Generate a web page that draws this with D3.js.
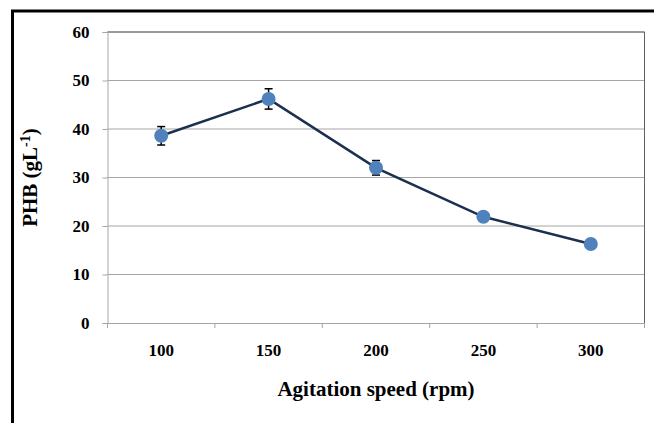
<!DOCTYPE html>
<html><head><meta charset="utf-8">
<script src="https://cdn.jsdelivr.net/npm/d3@7"></script>
<style>body{margin:0;background:#fff}svg{display:block}
.t{font-family:"Liberation Serif","Times New Roman",serif;font-weight:bold;fill:#000}</style>
</head><body>
<script>
const categories = ["100","150","200","250","300"];
const phb = [38.6, 46.2, 32.0, 21.9, 16.3];
const errs = [1.9, 2.1, 1.5, 0.5, 0.4];
const yTicks = [0,10,20,30,40,50,60];

const W=654,H=423;
const svg=d3.select("body").append("svg").attr("width",W).attr("height",H);
svg.append("rect").attr("width",W).attr("height",H).attr("fill","#fff");
// outer frame
svg.append("rect").attr("x",12.5).attr("y",11).attr("width",700).attr("height",500)
  .attr("fill","none").attr("stroke","#000").attr("stroke-width",3);

const L=107.5,R=644.5,T=32,B=323;
const x=d3.scaleBand().domain(categories).range([L,R]).padding(0);
const y=d3.scaleLinear().domain([0,60]).range([B,T]);

// gridlines
svg.append("g").selectAll("line").data(yTicks.filter(d=>d>0)).join("line")
  .attr("x1",L).attr("x2",R).attr("y1",d=>y(d)).attr("y2",d=>y(d))
  .attr("stroke","#a6a6a6").attr("stroke-width",1);
// plot border top/right
svg.append("line").attr("x1",L).attr("x2",R).attr("y1",T).attr("y2",T).attr("stroke","#606060");
svg.append("line").attr("x1",R).attr("x2",R).attr("y1",T).attr("y2",B).attr("stroke","#606060");

// y axis
const ya=svg.append("g").attr("transform",`translate(${L},0)`)
  .call(d3.axisLeft(y).tickValues(yTicks).tickSize(5).tickPadding(13));
ya.attr("font-family",null).attr("font-size",null);
ya.select(".domain").attr("stroke","#a6a6a6");
ya.selectAll(".tick line").attr("stroke","#a6a6a6");
ya.selectAll("text").attr("class","t").style("font-size","17px");

// x axis
const xa=svg.append("g").attr("transform",`translate(0,${B})`)
  .call(d3.axisBottom(x).tickSize(0).tickPadding(21));
xa.attr("font-family",null).attr("font-size",null);
xa.select(".domain").attr("stroke","#a6a6a6");
xa.selectAll("text").attr("class","t").style("font-size","17px");
// category boundary ticks
const bounds=categories.map(c=>x(c)).concat([x(categories[categories.length-1])+x.bandwidth()]);
svg.append("g").selectAll("line").data(bounds).join("line")
  .attr("x1",d=>d).attr("x2",d=>d).attr("y1",B).attr("y2",B+5).attr("stroke","#a6a6a6");

const cx=c=>x(c)+x.bandwidth()/2;
// line
svg.append("path").datum(categories.map((c,i)=>[cx(c),y(phb[i])]))
  .attr("d",d3.line()).attr("fill","none").attr("stroke","#1b2f4f").attr("stroke-width",2.5);
// error bars
const eb=svg.append("g").attr("stroke","#000").attr("stroke-width",1.5);
categories.forEach((c,i)=>{
  const xx=cx(c),y1=y(phb[i]+errs[i]),y2=y(phb[i]-errs[i]);
  eb.append("line").attr("x1",xx).attr("x2",xx).attr("y1",y1).attr("y2",y2);
  eb.append("line").attr("x1",xx-4).attr("x2",xx+4).attr("y1",y1).attr("y2",y1);
  eb.append("line").attr("x1",xx-4).attr("x2",xx+4).attr("y1",y2).attr("y2",y2);
});
// markers
svg.append("g").selectAll("circle").data(categories).join("circle")
  .attr("cx",d=>cx(d)).attr("cy",(d,i)=>y(phb[i])).attr("r",7).attr("fill","#4f81bd");

// axis titles
svg.append("text").attr("class","t").attr("x",(L+R)/2).attr("y",396).attr("text-anchor","middle")
  .style("font-size","21px").text("Agitation speed (rpm)");
const yt=svg.append("text").attr("class","t").attr("transform",`translate(37,${(T+B)/2}) rotate(-90)`).attr("text-anchor","middle")
  .style("font-size","21px");
yt.append("tspan").text("PHB (gL");
yt.append("tspan").attr("dy","-7").style("font-size","14px").text("-1");
yt.append("tspan").attr("dy","7").text(")");
</script>
</body></html>
